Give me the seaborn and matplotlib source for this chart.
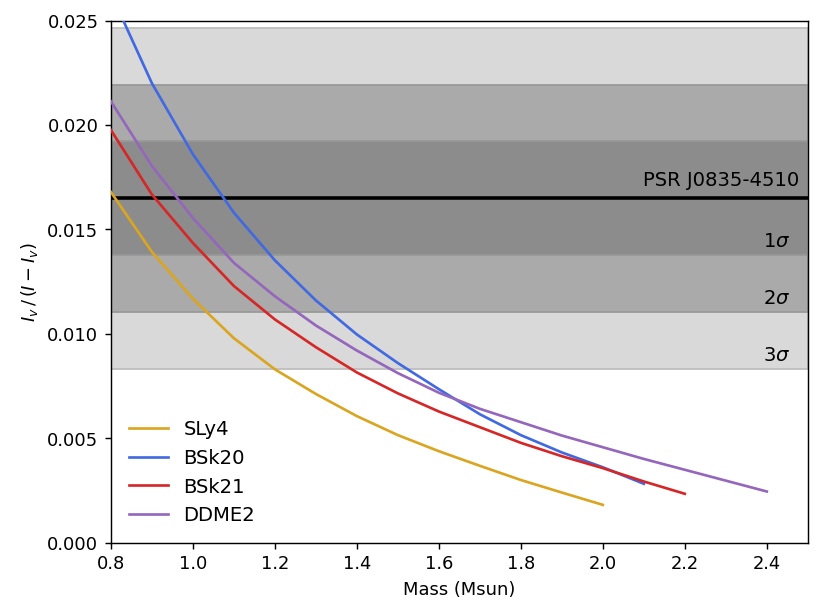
import numpy as np
import pandas as pd
import matplotlib
matplotlib.use('Agg')
import matplotlib.pyplot as plt
import seaborn as sns

# masas (Msun) y I_v/(I-I_v) para cada EoS
mass_sly4 = [0.8, 0.9, 1.0, 1.1, 1.2, 1.3, 1.4, 1.5, 1.6, 1.7, 1.8, 1.9, 2.0]
sly4 = [0.01679, 0.01392, 0.01168, 0.00979, 0.00830, 0.00712, 0.00606, 0.00515,
        0.00438, 0.00368, 0.00300, 0.00240, 0.00181]

mass_bsk20 = [0.8, 0.9, 1.0, 1.1, 1.2, 1.3, 1.4, 1.5, 1.6, 1.7, 1.8, 1.9, 2.0, 2.1]
bsk20 = [0.0263, 0.0220, 0.0186, 0.0158, 0.01352, 0.0116, 0.00997, 0.0086,
         0.00735, 0.00615, 0.00515, 0.00432, 0.00361, 0.00282]

mass_bsk21 = [0.8, 0.9, 1.0, 1.1, 1.2, 1.3, 1.4, 1.5, 1.6, 1.7, 1.8, 1.9, 2.0, 2.1, 2.2]
bsk21 = [0.01976, 0.01667, 0.01435, 0.01229, 0.01069, 0.00936, 0.00815, 0.00715,
         0.00628, 0.00553, 0.00478, 0.00414, 0.00357, 0.00293, 0.00234]

mass_ddme2 = [0.8, 0.9, 1.0, 1.1, 1.2, 1.3, 1.4, 1.5, 1.6, 1.7, 1.8, 1.9, 2.0,
              2.1, 2.2, 2.3, 2.4]
ddme2 = [0.02113, 0.01804, 0.01555, 0.0134, 0.0118, 0.0104, 0.0092, 0.00812,
         0.00718, 0.00641, 0.00577, 0.00513, 0.00457, 0.00401, 0.00349, 0.00297, 0.00245]

eos_names = ['SLy4', 'BSk20', 'BSk21', 'DDME2']
eos_colors = ['goldenrod', 'royalblue', 'tab:red', 'tab:purple']

# Vela: valor central y sigma
psr_name = 'PSR J0835-4510'
psr_val = 0.0165
psr_sig = 0.00272
band_labels = ['1$\\sigma$', '2$\\sigma$', '3$\\sigma$']
band_colors = ['#8c8c8c', '#aaaaaa', '#d9d9d9']

df = pd.concat([
    pd.DataFrame({'Mass': mass_sly4, 'val': sly4, 'EoS': 'SLy4'}),
    pd.DataFrame({'Mass': mass_bsk20, 'val': bsk20, 'EoS': 'BSk20'}),
    pd.DataFrame({'Mass': mass_bsk21, 'val': bsk21, 'EoS': 'BSk21'}),
    pd.DataFrame({'Mass': mass_ddme2, 'val': ddme2, 'EoS': 'DDME2'}),
])

fig, ax = plt.subplots(figsize=(6.4, 4.8), dpi=128.4)
fig.subplots_adjust(left=0.135, right=0.983, top=0.966, bottom=0.119)

# bandas de 3, 2 y 1 sigma
for k in [3, 2, 1]:
    ax.axhspan(psr_val - k * psr_sig, psr_val + k * psr_sig, facecolor=band_colors[k - 1],
               edgecolor='#bdbdbd' if k == 3 else '#999999', linewidth=1.0, zorder=0)
ax.axhline(psr_val, color='k', lw=2, zorder=1)

sns.lineplot(data=df, x='Mass', y='val', hue='EoS', hue_order=eos_names,
             palette=dict(zip(eos_names, eos_colors)), sort=False, ax=ax,
             linewidth=1.5, zorder=3)

ax.text(2.478, psr_val + 0.0004, psr_name, ha='right', va='bottom', fontsize=11)
for k in [1, 2, 3]:
    ax.text(2.458, psr_val - k * psr_sig + 0.00065, band_labels[k - 1],
            ha='right', va='center', fontsize=11)

ax.set_xlim(0.8, 2.5)
ax.set_ylim(0, 0.025)
ax.set_xlabel('Mass (Msun)')
ax.set_ylabel('$I_v\\,/\\,(I - I_v)$')
ax.legend(loc='lower left', frameon=False, fontsize=11, title=None)

plt.savefig('out.png')
